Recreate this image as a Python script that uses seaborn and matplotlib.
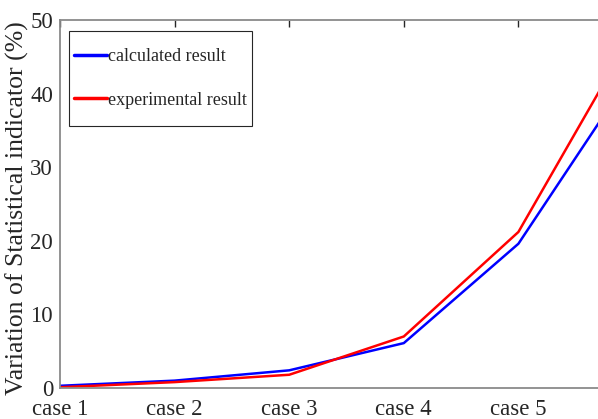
import pandas as pd
import matplotlib
matplotlib.use('Agg')
import matplotlib.pyplot as plt
from matplotlib.path import Path
import seaborn as sns

cases = ['case 1', 'case 2', 'case 3', 'case 4', 'case 5', 'case 6']
calculated = [0.3, 1.0, 2.4, 6.1, 19.6, 43.0]
experimental = [0.1, 0.8, 1.8, 7.0, 21.2, 48.3]
y_ticks = [0, 10, 20, 30, 40, 50]

sns.set_style('white')
plt.rcParams['font.family'] = ['Liberation Serif', 'DejaVu Serif']

df = pd.DataFrame({
    'case': cases * 2,
    'value': calculated + experimental,
    'series': ['calculated result'] * len(cases) + ['experimental result'] * len(cases),
})
df['pos'] = df['case'].map({c: i for i, c in enumerate(cases)})


def tall_box(x0, y0, width, height, mutation_size):
    # legend frame with extra room above and below, MATLAB style
    ext = 12
    return Path([(x0, y0 - ext), (x0 + width, y0 - ext), (x0 + width, y0 + height + ext),
                 (x0, y0 + height + ext), (x0, y0 - ext)], closed=True)


fig = plt.figure(figsize=(5.98, 4.19), dpi=100)
# axes run past the right edge, as in the cropped original
ax = fig.add_axes([60 / 598, 1 - 388 / 419, 573 / 598, 368 / 419])

sns.lineplot(data=df, x='pos', y='value', hue='series',
             palette={'calculated result': '#0000ff', 'experimental result': '#ff0000'},
             linewidth=1.8, ax=ax, legend=True)

ax.set_xlim(0, 5)
ax.set_ylim(0, 50)
# the case 6 tick falls outside the cropped figure
ax.set_xticks(range(len(cases) - 1))
ax.set_xticklabels(cases[:-1])
ax.set_yticks(y_ticks)
ax.set_xlabel('')
ax.set_ylabel('Variation of Statistical indicator (%)', fontsize=18.5, color='#262626')
ax.yaxis.set_label_coords(-31 / 573, 0.49)
ax.tick_params(axis='both', direction='in', length=5, width=1, color='#262626',
               labelsize=16.5, labelcolor='#262626', top=True, right=True)
ax.tick_params(axis='x', pad=8)
ax.tick_params(axis='y', pad=5)
for s in ax.spines.values():
    s.set_color('#8a8a8a')
    s.set_linewidth(1.3)

leg = ax.legend(loc='upper left', bbox_to_anchor=(9 / 573, 1 - 23 / 368), fontsize=13,
                frameon=True, fancybox=False, edgecolor='#262626', framealpha=1,
                handlelength=1.78, handletextpad=0.08, labelspacing=1.46,
                borderpad=0.3, borderaxespad=0)
leg.get_frame().set_boxstyle(tall_box)
leg.get_frame().set_linewidth(0.8)
for line in leg.get_lines():
    line.set_linewidth(2.5)

fig.savefig('out.png', dpi=100)
